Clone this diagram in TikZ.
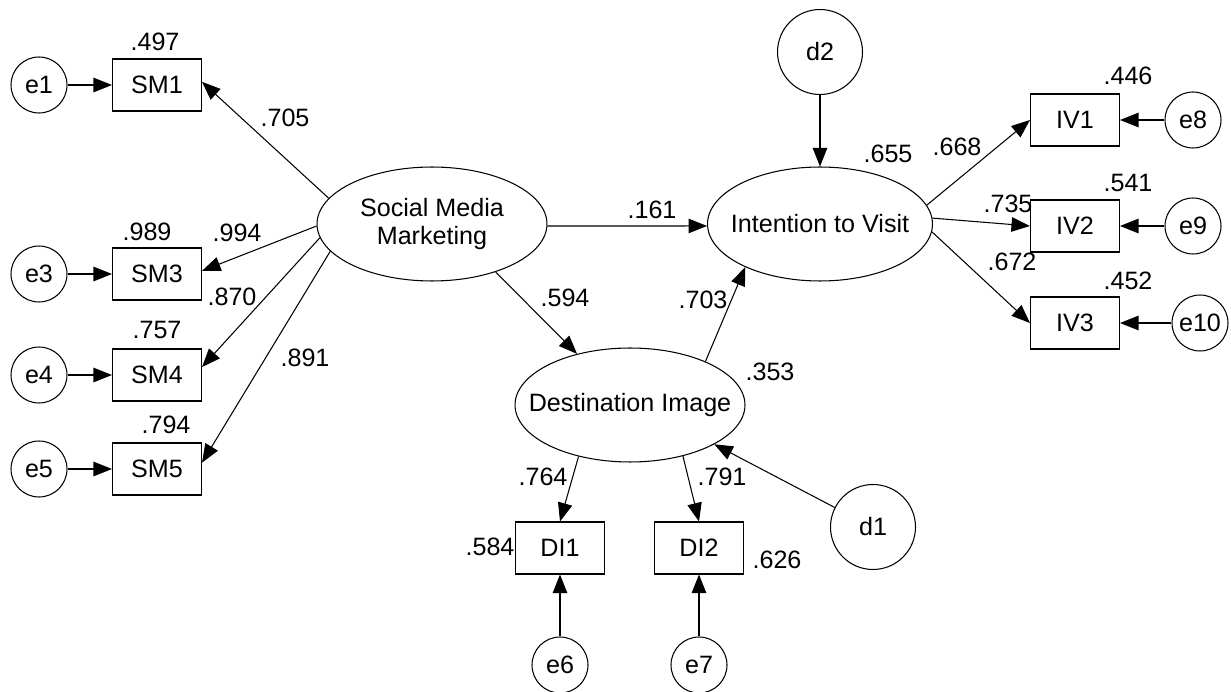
\documentclass[tikz,border=0pt]{standalone}
\usepackage{fontspec}
\setmainfont{Liberation Sans}
\usetikzlibrary{arrows.meta, shapes.geometric}

\begin{document}
\begin{tikzpicture}[x=0.02cm, y=-0.02cm, font=\fontsize{14.3}{15.5}\selectfont,
        errstyle/.style={circle, draw, minimum size=1.12cm, inner sep=0pt},
        diststyle/.style={circle, draw, minimum size=1.7cm, inner sep=0pt},
        boxstyle/.style={rectangle, draw, minimum width=1.78cm, minimum height=1.04cm, inner sep=0pt},
        latentstyle/.style={ellipse, draw, minimum width=4.6cm, minimum height=2.28cm, inner sep=0pt,
            label={[align=center, inner sep=0pt]center:#1}},
        numstyle/.style={inner sep=0pt},
        arrowstyle/.style={-{Triangle[length=0.37cm, width=0.29cm]}, line width=0.6pt}]
            \useasboundingbox (0,0) rectangle (1231,692);
            \tikzset{every path/.append style={line width=0.6pt}}
            
            % latent variables
            \node[latentstyle={Social Media\\Marketing}] (smm) at (432,224) {};
            \node[latentstyle={Intention to Visit}, minimum width=4.5cm] (itv) at (820,224) {};
            \node[latentstyle={Destination Image}] (dim) at (630,405) {};
            \node[diststyle] (d1) at (873,527) {d1};
            \node[diststyle] (d2) at (820,52) {d2};
            
            % social media marketing indicators
            \foreach \n/\y in {1/85, 3/274, 4/375, 5/469}
            {
            \node[boxstyle] (sm\n) at (157,\y) {SM\n};
            \node[errstyle] (e\n) at (39,\y) {e\n};
            \draw[arrowstyle] (e\n) -- (sm\n);
            }
            \foreach \n/\a/\b in {1/166/4, 3/181/4, 4/187/10, 5/195/8}
            \draw[arrowstyle] (smm.\a) -- (sm\n.\b);
            
            % intention to visit indicators
            \foreach \n/\y/\e/\x/\a in {1/120/8/1193/10.5, 2/226/9/1193/3, 3/323/10/1200/-4.6}
            {
            \node[boxstyle] (iv\n) at (1075,\y) {IV\n};
            \node[errstyle] (e\e) at (\x,\y) {e\e};
            \draw[arrowstyle] (e\e) -- (iv\n);
            \draw[arrowstyle] (itv.\a) -- (iv\n.west);
            }
            
            % destination image indicators
            \foreach \n/\x/\e/\a in {1/560/6/225, 2/699/7/-44.5}
            {
            \node[boxstyle] (di\n) at (\x,548) {DI\n};
            \node[errstyle] (e\e) at (\x,665) {e\e};
            \draw[arrowstyle] (e\e) -- (di\n);
            \draw[arrowstyle] (dim.\a) -- (di\n.north);
            }
            
            % structural paths
            \draw[arrowstyle] (smm.-1.5) -- (itv.181.5);
            \draw[arrowstyle] (smm.-37.3) -- (dim.136);
            \draw[arrowstyle] (dim.30) -- (itv.210.4);
            \draw[arrowstyle] (d2) -- (itv);
            \draw[arrowstyle] (d1.153) -- (dim.-25.7);
            
            % estimates
            \node[numstyle] (r2sm1) at (155,42) {.497};
            \node[numstyle] (r2sm3) at (147,232) {.989};
            \node[numstyle] (r2sm4) at (157,330) {.757};
            \node[numstyle] (r2sm5) at (166,425) {.794};
            \node[numstyle] (wsm1) at (285,118) {.705};
            \node[numstyle] (wsm3) at (237,233) {.994};
            \node[numstyle] (wsm4) at (232,297) {.870};
            \node[numstyle] (wsm5) at (305,358) {.891};
            \node[numstyle] (wsmitv) at (652,210) {.161};
            \node[numstyle] (wsmdim) at (565,298) {.594};
            \node[numstyle] (wdimitv) at (703,300) {.703};
            \node[numstyle] (r2dim) at (770,372) {.353};
            \node[numstyle] (r2itv) at (888,154) {.655};
            \node[numstyle] (wiv1) at (957,147) {.668};
            \node[numstyle] (wiv2) at (1008,204) {.735};
            \node[numstyle] (wiv3) at (1012,262) {.672};
            \node[numstyle] (r2iv1) at (1128,76) {.446};
            \node[numstyle] (r2iv2) at (1128,183) {.541};
            \node[numstyle] (r2iv3) at (1128,281) {.452};
            \node[numstyle] (wdi1) at (543,477) {.764};
            \node[numstyle] (wdi2) at (722,477) {.791};
            \node[numstyle] (r2di1) at (490,547) {.584};
            \node[numstyle] (r2di2) at (777,560) {.626};
        \end{tikzpicture}
\end{document}
